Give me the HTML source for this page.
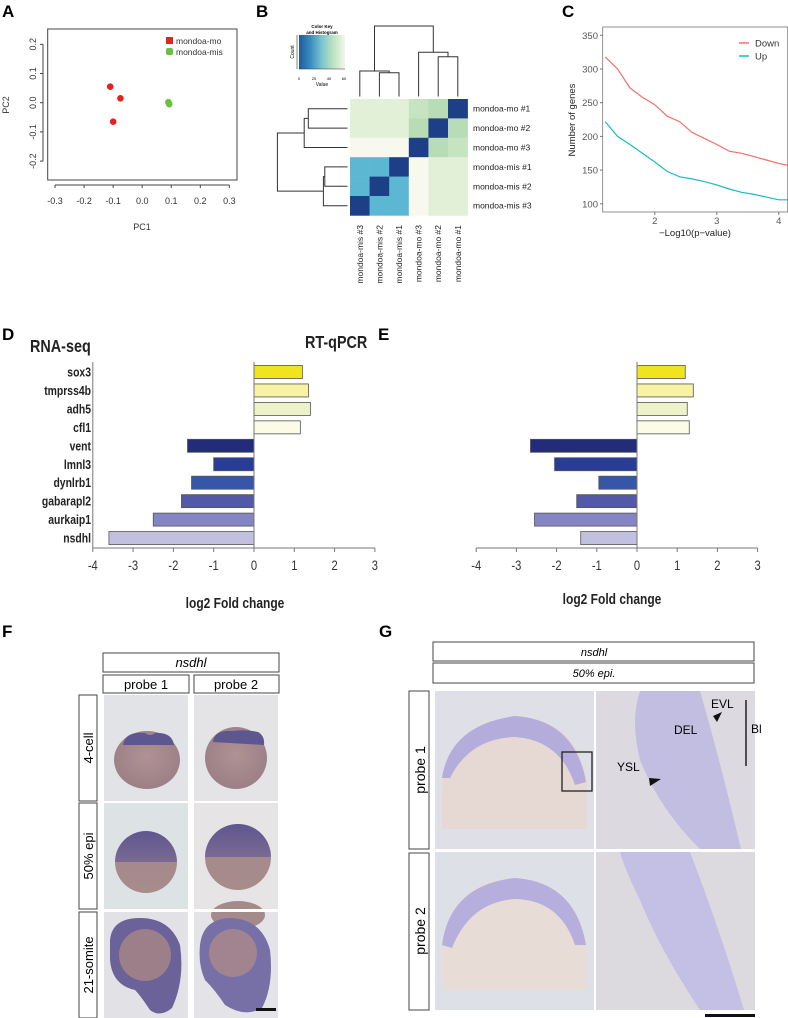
<!DOCTYPE html>
<html><head><meta charset="utf-8">
<style>
html,body{margin:0;padding:0;background:#fff;}
svg{display:block;font-family:"Liberation Sans",sans-serif;}
</style></head>
<body>
<svg id="fig" width="788" height="1018" viewBox="0 0 788 1018" xmlns="http://www.w3.org/2000/svg">
<defs>
<linearGradient id="ckey" x1="0" x2="1" y1="0" y2="0">
<stop offset="0" stop-color="#1f5a9c"/><stop offset="0.25" stop-color="#3a8cc0"/><stop offset="0.5" stop-color="#7cc5ce"/><stop offset="0.75" stop-color="#bfe3c0"/><stop offset="1" stop-color="#f3f8ea"/>
</linearGradient>
<radialGradient id="yolk" cx="0.5" cy="0.45" r="0.6"><stop offset="0" stop-color="#b09292"/><stop offset="1" stop-color="#9a7e86"/></radialGradient>
<linearGradient id="epi" x1="0" x2="0" y1="0" y2="1"><stop offset="0" stop-color="#5e5690"/><stop offset="0.5" stop-color="#7a6a92"/><stop offset="0.5" stop-color="#a58a8c"/><stop offset="1" stop-color="#a88c8c"/></linearGradient>
</defs>

<g font-weight="bold" font-size="17">
<text x="2" y="17">A</text><text x="256" y="17">B</text><text x="562" y="17">C</text>
<text x="2" y="340">D</text><text x="378" y="340">E</text>
<text x="2" y="637">F</text><text x="379" y="637">G</text>
</g>

<g id="panelA"></g>
<g id="panelB"></g>
<g id="panelC"></g>
<g id="panelD"></g>
<g id="panelE"></g>

<g>
<rect x="103" y="653" width="176" height="19" fill="#fff" stroke="#444"/>
<text x="191" y="667" font-size="13" font-style="italic" text-anchor="middle">nsdhl</text>
<rect x="103" y="675" width="86" height="18" fill="#fff" stroke="#444"/>
<text x="146" y="689" font-size="13" text-anchor="middle">probe 1</text>
<rect x="194" y="675" width="85" height="18" fill="#fff" stroke="#444"/>
<text x="236" y="689" font-size="13" text-anchor="middle">probe 2</text>
<rect x="79" y="695" width="18" height="106" fill="#fff" stroke="#444"/>
<text transform="translate(93,748) rotate(-90)" font-size="13" text-anchor="middle">4-cell</text>
<rect x="79" y="803" width="18" height="106" fill="#fff" stroke="#444"/>
<text transform="translate(93,856) rotate(-90)" font-size="13" text-anchor="middle">50% epi</text>
<rect x="79" y="912" width="18" height="106" fill="#fff" stroke="#444"/>
<text transform="translate(93,965) rotate(-90)" font-size="13" text-anchor="middle">21-somite</text>
<g>
<rect x="104" y="695" width="84" height="106" fill="#e2e3e6"/><rect x="194" y="695" width="84" height="106" fill="#e4e4e6"/>
<rect x="104" y="803" width="84" height="106" fill="#dde2e4"/><rect x="194" y="803" width="84" height="106" fill="#e6e4e4"/>
<rect x="104" y="912" width="84" height="106" fill="#e2e2e6"/><rect x="194" y="912" width="84" height="106" fill="#e4e4e8"/>
<ellipse cx="147" cy="760" rx="33" ry="29" fill="url(#yolk)"/>
<path d="M123 745 Q125 731 145 733 Q150 737 155 733 Q172 732 174 745 Z" fill="#5d5790"/>
<ellipse cx="236" cy="758" rx="31" ry="31" fill="url(#yolk)"/>
<path d="M213 742 Q214 730 232 731 Q245 729 258 732 Q265 736 264 745 Z" fill="#5d5790"/>
<circle cx="146" cy="862" r="31" fill="url(#epi)"/>
<circle cx="238" cy="857" r="33" fill="url(#epi)"/>
<ellipse cx="238" cy="915" rx="27" ry="14" fill="#a58a8c"/>
<rect x="194" y="909" width="84" height="3" fill="#fff"/>
<path d="M110 940 Q112 918 140 918 Q170 918 180 945 Q185 980 172 1008 Q160 1018 150 1010 Q140 995 135 990 Q112 985 110 960 Z" fill="#6a6298"/>
<circle cx="145" cy="955" r="26" fill="#9c7f88"/>
<path d="M200 945 Q203 918 232 918 Q262 920 270 950 Q274 985 262 1008 Q245 1018 225 1005 Q215 990 205 980 Q198 965 200 945 Z" fill="#7770a6"/>
<circle cx="233" cy="953" r="24" fill="#a28490"/>
<rect x="256" y="1008" width="20" height="3" fill="#111"/>
</g>
</g>

<g>
<rect x="433" y="642" width="321" height="19" fill="#fff" stroke="#444"/>
<text x="594" y="656" font-size="11" font-style="italic" text-anchor="middle">nsdhl</text>
<rect x="433" y="663" width="321" height="20" fill="#fff" stroke="#444"/>
<text x="594" y="677" font-size="11" font-style="italic" text-anchor="middle">50% epi.</text>
<rect x="409" y="691" width="20" height="158" fill="#fff" stroke="#444"/>
<text transform="translate(425,770) rotate(-90)" font-size="14" text-anchor="middle">probe 1</text>
<rect x="409" y="853" width="20" height="157" fill="#fff" stroke="#444"/>
<text transform="translate(425,931) rotate(-90)" font-size="14" text-anchor="middle">probe 2</text>
<rect x="435" y="691" width="159" height="158" fill="#dfdfe8"/>
<rect x="596" y="691" width="159" height="158" fill="#dcdae0"/>
<rect x="435" y="852" width="159" height="158" fill="#dee0e8"/>
<rect x="596" y="852" width="159" height="158" fill="#dcdadf"/>
<path d="M442 829 L442 790 Q445 730 515 716 Q575 718 587 780 L587 829 Z" fill="#e6d9d4"/>
<path d="M442 778 Q450 725 515 716 Q575 720 586 782 L575 785 Q560 740 515 737 Q470 738 450 778 Z" fill="#b4acda"/>
<rect x="562" y="752" width="30" height="39" fill="none" stroke="#222" stroke-width="1.3"/>
<path d="M640 691 L700 691 Q720 760 741 849 L700 849 Q660 810 640 760 Q630 720 640 691 Z" fill="#c2bee2"/>
<path d="M442 990 L442 950 Q450 880 515 878 Q575 882 587 945 L587 990 Z" fill="#e8dcd6"/>
<path d="M442 945 Q450 885 515 878 Q575 882 586 945 L575 945 Q560 900 515 899 Q470 902 452 948 Z" fill="#b6aedc"/>
<path d="M620 852 L690 852 Q720 930 744 1010 L700 1010 Q660 950 640 900 Q625 870 620 852 Z" fill="#c4bfe4"/>
<text x="711" y="708" font-size="12">EVL</text>
<text x="674" y="734" font-size="12">DEL</text>
<text x="617" y="771" font-size="12">YSL</text>
<text x="751" y="733" font-size="12">Bl</text>
<line x1="746" y1="700" x2="746" y2="766" stroke="#222" stroke-width="1.5"/>
<path d="M713 716 L722 712 L717 722 Z" fill="#111"/>
<path d="M649 778 L661 779 L650 786 Z" fill="#111"/>
<rect x="705" y="1014" width="50" height="3" fill="#111"/>
</g>
</svg>

<script>
const pcaMoX = [-0.11, -0.075, -0.10];
const pcaMoY = [0.055, 0.015, -0.065];
const pcaMisX = [0.090, 0.093, 0.092];
const pcaMisY = [0.002, -0.005, -0.002];
const pcaTicks = [-0.3, -0.2, -0.1, 0.0, 0.1, 0.2, 0.3];
const pcaYTicks = [-0.2, -0.1, 0.0, 0.1, 0.2];

const hmRows = ["mondoa-mo #1","mondoa-mo #2","mondoa-mo #3","mondoa-mis #1","mondoa-mis #2","mondoa-mis #3"];
const hmCols = ["mondoa-mis #3","mondoa-mis #2","mondoa-mis #1","mondoa-mo #3","mondoa-mo #2","mondoa-mo #1"];
const hmValues = [
 [48,48,48,40,36,0],
 [47,47,47,34,0,36],
 [58,58,58,0,34,40],
 [20,20,0,58,48,48],
 [20,0,20,58,48,48],
 [0,20,20,58,47,47]
];

const pvalX = [1.2,1.4,1.6,1.8,2.0,2.2,2.4,2.6,2.8,3.0,3.2,3.4,3.6,3.8,4.0,4.15];
const downCounts = [318,300,272,258,247,230,222,206,197,188,178,175,170,165,160,157];
const upCounts = [222,200,188,175,162,148,140,137,133,128,122,117,114,110,106,106];
const cXTicks = [2,3,4];
const cYTicks = [100,150,200,250,300,350];

const genes = ["sox3","tmprss4b","adh5","cfl1","vent","lmnl3","dynlrb1","gabarapl2","aurkaip1","nsdhl"];
const rnaSeqFC = [1.2,1.35,1.4,1.15,-1.65,-1.0,-1.55,-1.8,-2.5,-3.6];
const qpcrFC = [1.2,1.4,1.25,1.3,-2.65,-2.05,-0.95,-1.5,-2.55,-1.4];
const barColors = ["#f0e41e","#f8f2a4","#eef2c8","#fcfce6","#232c78","#283c98","#3656a8","#5458a8","#8485c2","#c2c0e0"];
const fcTicks = [-4,-3,-2,-1,0,1,2,3];

const NS = "http://www.w3.org/2000/svg";
function el(parent, tag, attrs, text) {
  const e = document.createElementNS(NS, tag);
  for (const k in attrs) e.setAttribute(k, attrs[k]);
  if (text !== undefined) e.textContent = text;
  parent.appendChild(e);
  return e;
}
function ctext(parent, x, y, attrs, text) {
  const a = Object.assign({transform:`translate(${x},${y}) scale(0.8,1)`, x:0, y:0}, attrs);
  return el(parent, 'text', a, text);
}

(function(){
  const g = document.getElementById('panelA');
  const sx = v => 142.2 + v * 290.5;
  const sy = v => 102.7 - v * 292;
  const box = el(g,'rect',{x:47.7,y:29,width:189.3,height:151,fill:'none',stroke:'#444','stroke-width':1});
  
  
  el(g,'line',{x1:sx(-0.3),x2:sx(0.3),y1:185,y2:185,stroke:'#444'});
  pcaTicks.forEach(t=>{
    el(g,'line',{x1:sx(t),x2:sx(t),y1:185,y2:188,stroke:'#444'});
    const lb = el(g,'text',{x:sx(t),y:204,'font-size':9,'text-anchor':'middle',fill:'#333'},t.toFixed(1));
    
    
  });
  el(g,'line',{x1:43,x2:43,y1:sy(0.2),y2:sy(-0.2),stroke:'#444'});
  pcaYTicks.forEach(t=>{
    el(g,'line',{x1:40,x2:43,y1:sy(t),y2:sy(t),stroke:'#444'});
    const lb = el(g,'text',{transform:`translate(36,${sy(t)}) rotate(-90)`,'font-size':9,'text-anchor':'middle',fill:'#333'},t.toFixed(1));
    
    
  });
  const xt = el(g,'text',{x:142,y:230,'font-size':9,'text-anchor':'middle',fill:'#333'},'PC1');
  
  
  const yt = el(g,'text',{transform:'translate(9,105) rotate(-90)','font-size':9,'text-anchor':'middle',fill:'#333'},'PC2');
  
  
  pcaMoX.forEach((x,i)=>{
    const c = el(g,'circle',{cx:sx(x),cy:sy(pcaMoY[i]),r:3.3,fill:'#e8201e'});
    
    
  });
  pcaMisX.forEach((x,i)=>{
    const c = el(g,'circle',{cx:sx(x),cy:sy(pcaMisY[i]),r:3.3,fill:'#6cc040'});
    
    
  });
  const l1 = el(g,'rect',{x:166,y:37,width:7,height:7,fill:'#e8201e'});
  
  
  el(g,'text',{x:176,y:44,'font-size':8.5,fill:'#333'},'mondoa-mo');
  const l2 = el(g,'rect',{x:166,y:48,width:7,height:7,rx:2,fill:'#6cc040'});
  
  
  el(g,'text',{x:176,y:55,'font-size':8.5,fill:'#333'},'mondoa-mis');
})();

(function(){
  const g = document.getElementById('panelB');
  const x0 = 350, y0 = 99, cw = 19.6, ch = 19.4;
  const color = v => {
    if (v <= 5) return '#1c3f88';
    if (v <= 25) return '#5cb8d2';
    if (v <= 37) return '#b8dcb6';
    if (v <= 42) return '#c6e4c2';
    if (v <= 50) return '#e2f0d8';
    return '#f7f9ee';
  };
  hmValues.forEach((row,r)=>row.forEach((v,c)=>{
    const cell = el(g,'rect',{x:x0+c*cw,y:y0+r*ch,width:cw+0.3,height:ch+0.3,fill:color(v)});
    
    
  }));
  hmRows.forEach((n,r)=>{
    const t = el(g,'text',{x:473,y:y0+r*ch+ch/2+3,'font-size':8.5,fill:'#222'},n);
    
    
  });
  hmCols.forEach((n,c)=>{
    const cx = x0+c*cw+cw/2+3;
    const t = el(g,'text',{transform:`translate(${cx},225) rotate(-90)`,'font-size':8.5,'text-anchor':'end',fill:'#222'},n);
    
    
  });
  const cxs = hmCols.map((_,c)=>x0+c*cw+cw/2);
  const rys = hmRows.map((_,r)=>y0+r*ch+ch/2);
  const lines = [];
  const tb = 96.5;
  const a = (cxs[1]+cxs[2])/2, b=(cxs[0]+a)/2, c2=(cxs[4]+cxs[5])/2, d=(cxs[3]+c2)/2;
  lines.push(`M${cxs[1]} ${tb}V72.7H${cxs[2]}V${tb}`);
  lines.push(`M${cxs[0]} ${tb}V71H${a}V72.7`);
  lines.push(`M${cxs[4]} ${tb}V56.7H${cxs[5]}V${tb}`);
  lines.push(`M${cxs[3]} ${tb}V52.3H${c2}V56.7`);
  lines.push(`M${b} 71V26H${d}V52.3`);
  const lr = 347.5;
  const e=(rys[0]+rys[1])/2, f=(rys[2]+e)/2, h=(rys[3]+rys[4])/2, k=(rys[5]+h)/2;
  lines.push(`M${lr} ${rys[0]}H308.3V${rys[1]}H${lr}`);
  lines.push(`M${lr} ${rys[2]}H304.2V${e}H308.3`);
  lines.push(`M${lr} ${rys[3]}H324.8V${rys[4]}H${lr}`);
  lines.push(`M${lr} ${rys[5]}H323.4V${h}H324.8`);
  lines.push(`M304.2 ${f}H277.4V${k}H323.4`);
  lines.forEach(p=>{
    const pa = el(g,'path',{d:p,fill:'none',stroke:'#333','stroke-width':1});
    
    
  });
  const ck = el(g,'rect',{x:299,y:35,width:46,height:34,fill:'url(#ckey)'});
  
  
  el(g,'path',{d:'M299 69H345M297 35V69',stroke:'#333','stroke-width':0.6,fill:'none'});
  el(g,'text',{x:322,y:28,'font-size':4.5,'font-weight':'bold','text-anchor':'middle'},'Color Key');
  el(g,'text',{x:322,y:34,'font-size':4.5,'font-weight':'bold','text-anchor':'middle'},'and Histogram');
  ['0','20','40','60'].forEach((t,i)=>el(g,'text',{x:299+i*15,y:80,'font-size':4,'text-anchor':'middle'},t));
  el(g,'text',{x:322,y:86,'font-size':5,'text-anchor':'middle'},'Value');
  el(g,'text',{transform:'translate(294,52) rotate(-90)','font-size':5,'text-anchor':'middle'},'Count');
})();

(function(){
  const g = document.getElementById('panelC');
  const sx = v => 654.8 + (v-2)*62;
  const sy = v => 35.3 + (350-v)*0.674;
  const fr = el(g,'rect',{x:602.7,y:27,width:185,height:185,fill:'none',stroke:'#777','stroke-width':0.8});
  
  
  cYTicks.forEach(t=>{
    el(g,'line',{x1:600,x2:602.7,y1:sy(t),y2:sy(t),stroke:'#777'});
    const lb = el(g,'text',{x:598,y:sy(t)+3.5,'font-size':9.5,'text-anchor':'end',fill:'#555'},t);
    
    
  });
  cXTicks.forEach(t=>{
    el(g,'line',{x1:sx(t),x2:sx(t),y1:212,y2:215,stroke:'#777'});
    const lb = el(g,'text',{x:sx(t),y:224,'font-size':9.5,'text-anchor':'middle',fill:'#555'},t);
    
    
  });
  const xt = el(g,'text',{x:695,y:236,'font-size':9.5,'text-anchor':'middle',fill:'#222'},'\u2212Log10(p\u2212value)');
  
  
  const yt = el(g,'text',{transform:'translate(575,120) rotate(-90)','font-size':9.5,'text-anchor':'middle',fill:'#222'},'Number of genes');
  
  
  const mk = arr => arr.map((v,i)=>`${i?'L':'M'}${sx(pvalX[i]).toFixed(1)} ${sy(v).toFixed(1)}`).join('');
  const dl = el(g,'path',{d:mk(downCounts),fill:'none',stroke:'#f07068','stroke-width':1.2});
  
  
  const ul = el(g,'path',{d:mk(upCounts),fill:'none',stroke:'#18bcc4','stroke-width':1.2});
  
  
  el(g,'line',{x1:739,x2:749,y1:43,y2:43,stroke:'#f07068','stroke-width':1.5});
  el(g,'text',{x:755,y:46.5,'font-size':9.5,fill:'#333'},'Down');
  el(g,'line',{x1:739,x2:749,y1:56,y2:56,stroke:'#18bcc4','stroke-width':1.5});
  el(g,'text',{x:755,y:59.5,'font-size':9.5,fill:'#333'},'Up');
})();

function barChart(id, vals, zeroX, unit, leftSpine, labels, title, titleX, titleY, xlabX, xlabY){
  const g = document.getElementById(id);
  const sx = v => zeroX + v*unit;
  const rowY = i => 372 + i*18.45;
  const axisY = 548;
  vals.forEach((v,i)=>{
    const x = Math.min(sx(0), sx(v));
    const b = el(g,'rect',{x:x,y:rowY(i)-6.5,width:Math.abs(sx(v)-sx(0)),height:13,fill:barColors[i],stroke:'#555','stroke-width':0.8});
    
    
  });
  el(g,'line',{x1:sx(0),x2:sx(0),y1:362,y2:axisY,stroke:'#777','stroke-width':1});
  if (leftSpine) el(g,'line',{x1:sx(-4),x2:sx(-4),y1:362,y2:axisY,stroke:'#777','stroke-width':1});
  el(g,'line',{x1:sx(-4),x2:sx(3),y1:axisY,y2:axisY,stroke:'#777','stroke-width':1});
  fcTicks.forEach(t=>{
    el(g,'line',{x1:sx(t),x2:sx(t),y1:axisY,y2:axisY+4,stroke:'#777'});
    const lb = ctext(g, sx(t), axisY+22, {'font-size':14,'text-anchor':'middle',fill:'#333'}, t);
    
    
  });
  if (labels) genes.forEach((n,i)=>{
    const t = ctext(g, 91, rowY(i)+4.5, {'font-size':13,'font-weight':'bold','text-anchor':'end',fill:'#222'}, n);
    
    
  });
  const tt = ctext(g, titleX, titleY, {'font-size':18,'font-weight':'bold',fill:'#222'}, title);
  
  
  const xl = ctext(g, xlabX, xlabY, {'font-size':15,'font-weight':'bold','text-anchor':'middle',fill:'#222'}, 'log2 Fold change');
  
  
}
barChart('panelD', rnaSeqFC, 254, 40.3, true, true, 'RNA-seq', 30, 352, 235, 608);
barChart('panelE', qpcrFC, 637, 40.2, false, false, 'RT-qPCR', 305, 348, 612, 604);
</script>
</body></html>
